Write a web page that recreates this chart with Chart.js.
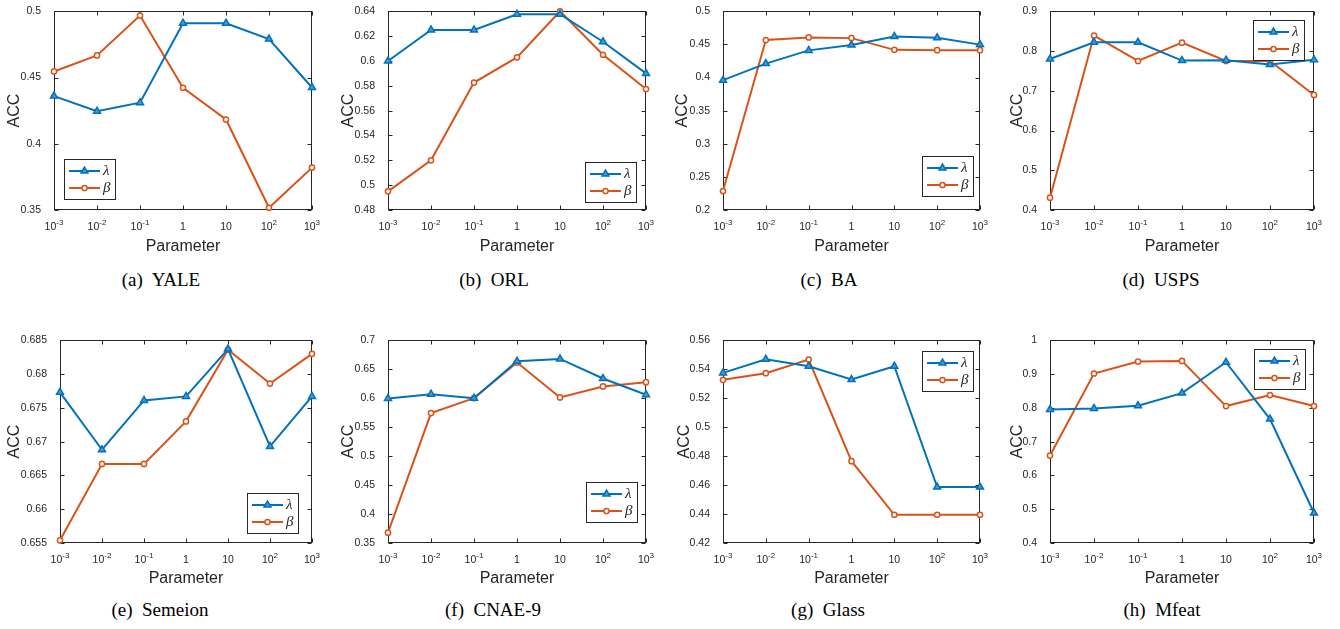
<!DOCTYPE html>
<html>
<head>
<meta charset="utf-8">
<title>Parameter sensitivity</title>
<script src="https://cdn.jsdelivr.net/npm/chart.js@4.4.1/dist/chart.umd.min.js"></script>
<style>
  body { margin: 0; background: #fff; width: 1340px; height: 629px; position: relative; overflow: hidden; }
  canvas.panel { position: absolute; }
  .caption {
    position: absolute; transform: translateX(-50%); white-space: pre;
    font-family: "Liberation Serif", "Times New Roman", serif; font-size: 19px; line-height: 22px; color: #000;
  }
</style>
</head>
<body>
<script>
// Parametrit (x-akseli): kantaluku ja eksponentti erikseen
const paramBase = ['10', '10', '10', '1', '10', '10', '10'];
const paramExp = ['-3', '-2', '-1', '', '', '2', '3'];
const params = ['10⁻³', '10⁻²', '10⁻¹', '1', '10', '10²', '10³'];
const seriesNames = ['λ', 'β'];

// ACC-arvot kuvasta luettuna
const yaleLambda = [0.436, 0.4245, 0.431, 0.491, 0.491, 0.479, 0.4425];
const yaleBeta = [0.4546, 0.4667, 0.4968, 0.4423, 0.4183, 0.3517, 0.382];
const yaleTicks = [0.35, 0.4, 0.45, 0.5];

const orlLambda = [0.600, 0.625, 0.625, 0.6376, 0.6376, 0.6155, 0.590];
const orlBeta = [0.495, 0.520, 0.5826, 0.6029, 0.640, 0.605, 0.5774];
const orlTicks = [0.48, 0.5, 0.52, 0.54, 0.56, 0.58, 0.6, 0.62, 0.64];

const baLambda = [0.396, 0.421, 0.441, 0.449, 0.462, 0.460, 0.4497];
const baBeta = [0.2287, 0.4566, 0.4605, 0.4595, 0.4418, 0.4413, 0.4413];
const baTicks = [0.2, 0.25, 0.3, 0.35, 0.4, 0.45, 0.5];

const uspsLambda = [0.780, 0.822, 0.822, 0.776, 0.777, 0.766, 0.778];
const uspsBeta = [0.431, 0.839, 0.775, 0.821, 0.775, 0.775, 0.6895];
const uspsTicks = [0.4, 0.5, 0.6, 0.7, 0.8, 0.9];

const semeionLambda = [0.6773, 0.6688, 0.6761, 0.6767, 0.6837, 0.6693, 0.6767];
const semeionBeta = [0.6554, 0.6667, 0.6667, 0.673, 0.6836, 0.6786, 0.683];
const semeionTicks = [0.655, 0.66, 0.665, 0.67, 0.675, 0.68, 0.685];

const cnaeLambda = [0.5996, 0.607, 0.600, 0.6639, 0.6679, 0.634, 0.606];
const cnaeBeta = [0.3678, 0.5744, 0.6002, 0.6616, 0.6013, 0.6203, 0.6277];
const cnaeTicks = [0.35, 0.4, 0.45, 0.5, 0.55, 0.6, 0.65, 0.7];

const glassLambda = [0.5375, 0.5469, 0.5421, 0.5329, 0.5421, 0.4586, 0.4586];
const glassBeta = [0.5327, 0.5373, 0.5467, 0.4765, 0.4395, 0.4395, 0.4395];
const glassTicks = [0.42, 0.44, 0.46, 0.48, 0.5, 0.52, 0.54, 0.56];

const mfeatLambda = [0.7955, 0.7984, 0.8063, 0.8437, 0.935, 0.767, 0.4887];
const mfeatBeta = [0.6588, 0.9017, 0.937, 0.939, 0.8053, 0.8378, 0.8053];
const mfeatTicks = [0.4, 0.5, 0.6, 0.7, 0.8, 0.9, 1];

const captions = ['(a)  YALE', '(b)  ORL', '(c)  BA', '(d)  USPS',
                  '(e)  Semeion', '(f)  CNAE-9', '(g)  Glass', '(h)  Mfeat'];

const BLUE = '#0072BD';
const ORANGE = '#D95319';
const INK = '#262626';
const SANS = '"Liberation Sans", Arial, sans-serif';

Chart.defaults.font.family = SANS;
Chart.defaults.color = INK;

// Paneelien sijainnit: piirtoalue [vasen, ylä, oikea, ala], y-akselin leveys, selitteen paikka
const panels = [
  { lam: yaleLambda, beta: yaleBeta, ticks: yaleTicks, plot: [54, 7, 312, 210], yw: 53, legend: ['sw', 10, 11], capX: 161 },
  { lam: orlLambda, beta: orlBeta, ticks: orlTicks, plot: [388, 7, 646, 210], yw: 53, legend: ['se', 10, 8], capX: 494 },
  { lam: baLambda, beta: baBeta, ticks: baTicks, plot: [723, 7, 980, 210], yw: 54, legend: ['se', 7, 14], capX: 829 },
  { lam: uspsLambda, beta: uspsBeta, ticks: uspsTicks, plot: [1050, 7, 1314, 210], yw: 46, legend: ['ne', 10, 9], capX: 1161 },
  { lam: semeionLambda, beta: semeionBeta, ticks: semeionTicks, plot: [60, 339, 312, 543], yw: 59, legend: ['se', 14, 10], capX: 160 },
  { lam: cnaeLambda, beta: cnaeBeta, ticks: cnaeTicks, plot: [388, 339, 646, 543], yw: 53, legend: ['se', 9, 21], capX: 493 },
  { lam: glassLambda, beta: glassBeta, ticks: glassTicks, plot: [723, 339, 980, 543], yw: 52, legend: ['ne', 7, 11], capX: 828 },
  { lam: mfeatLambda, beta: mfeatBeta, ticks: mfeatTicks, plot: [1050, 339, 1314, 543], yw: 46, legend: ['ne', 9, 9], capX: 1162 }
];

// Laatikko ja sisäänpäin osoittavat tikit (MATLAB-tyyli)
const framePlugin = {
  id: 'frame',
  beforeDatasetsDraw(chart) {
    const { ctx, chartArea: a, scales: { x, y } } = chart;
    const L = Math.round(a.left) + 0.5, R = Math.round(a.right) - 0.5;
    const T = Math.round(a.top) + 0.5, B = Math.round(a.bottom) - 0.5;
    ctx.save();
    ctx.strokeStyle = INK;
    ctx.lineWidth = 1;
    ctx.strokeRect(L, T, R - L, B - T);
    ctx.beginPath();
    y.ticks.forEach(t => {
      const py = Math.round(y.getPixelForValue(t.value)) + 0.5;
      ctx.moveTo(L, py); ctx.lineTo(L + 4, py);
      ctx.moveTo(R, py); ctx.lineTo(R - 4, py);
    });
    x.ticks.forEach((t, i) => {
      const px = Math.round(x.getPixelForTick(i)) + 0.5;
      ctx.moveTo(px, B); ctx.lineTo(px, B - 4);
      ctx.moveTo(px, T); ctx.lineTo(px, T + 4);
    });
    ctx.stroke();

    // x-akselin tikkitekstit: 10 ja yläindeksi
    ctx.fillStyle = INK;
    ctx.textBaseline = 'alphabetic';
    ctx.textAlign = 'left';
    x.ticks.forEach((t, i) => {
      const px = x.getPixelForTick(i);
      ctx.font = '10.5px ' + SANS;
      const wb = ctx.measureText(paramBase[i]).width;
      ctx.font = '8px ' + SANS;
      const we = ctx.measureText(paramExp[i]).width;
      const x0 = px - (wb + we) / 2;
      ctx.font = '10.5px ' + SANS;
      ctx.fillText(paramBase[i], x0, a.bottom + 20);
      if (paramExp[i]) {
        ctx.font = '8px ' + SANS;
        ctx.fillText(paramExp[i], x0 + wb, a.bottom + 14.5);
      }
    });
    ctx.restore();
  }
};

function drawMarker(ctx, style, x, y, r) {
  ctx.beginPath();
  if (style === 'triangle') {
    let rad = 0;
    ctx.moveTo(x + Math.sin(rad) * r, y - Math.cos(rad) * r);
    rad += Math.PI * 2 / 3;
    ctx.lineTo(x + Math.sin(rad) * r, y - Math.cos(rad) * r);
    rad += Math.PI * 2 / 3;
    ctx.lineTo(x + Math.sin(rad) * r, y - Math.cos(rad) * r);
    ctx.closePath();
  } else {
    ctx.arc(x, y, r, 0, Math.PI * 2);
  }
  ctx.fill();
  ctx.stroke();
}

// Selite laatikon sisällä
const legendPlugin = {
  id: 'boxLegend',
  afterDraw(chart, args, opts) {
    const { ctx, chartArea: a } = chart;
    const w = 51, h = 40;
    const [corner, dx, dy] = opts.at;
    const x = Math.round(corner.includes('w') ? a.left + dx : a.right - dx - w);
    const y = Math.round(corner.includes('n') ? a.top + dy : a.bottom - dy - h);
    ctx.save();
    ctx.fillStyle = '#fff';
    ctx.fillRect(x, y, w, h);
    ctx.strokeStyle = INK;
    ctx.lineWidth = 1;
    ctx.strokeRect(x + 0.5, y + 0.5, w, h);
    chart.data.datasets.forEach((ds, i) => {
      const ry = y + 12 + i * 17;
      ctx.strokeStyle = ds.borderColor;
      ctx.lineWidth = ds.borderWidth;
      ctx.beginPath();
      ctx.moveTo(x + 5, ry);
      ctx.lineTo(x + 36, ry);
      ctx.stroke();
      ctx.fillStyle = ds.pointBackgroundColor;
      ctx.strokeStyle = ds.pointBorderColor;
      ctx.lineWidth = ds.pointBorderWidth;
      drawMarker(ctx, ds.pointStyle, x + 20.5, ry, ds.pointRadius);
      ctx.fillStyle = INK;
      ctx.font = 'italic 15px "Liberation Serif", serif';
      ctx.textBaseline = 'middle';
      ctx.textAlign = 'left';
      ctx.fillText(ds.label, x + 39, ry);
    });
    ctx.restore();
  }
};

panels.forEach((p, idx) => {
  const [left, top, right, bottom] = p.plot;
  const padTop = idx < 4 ? 7 : 10;
  const xh = idx < 4 ? 50 : 49;
  const padRight = 16;
  const cw = p.yw + (right - left) + padRight;
  const chh = padTop + (bottom - top) + xh;

  const canvas = document.createElement('canvas');
  canvas.className = 'panel';
  canvas.width = cw;
  canvas.height = chh;
  canvas.style.left = (left - p.yw) + 'px';
  canvas.style.top = (top - padTop) + 'px';
  canvas.style.width = cw + 'px';
  canvas.style.height = chh + 'px';
  document.body.appendChild(canvas);

  const yMin = p.ticks[0], yMax = p.ticks[p.ticks.length - 1];

  new Chart(canvas.getContext('2d'), {
    type: 'line',
    data: {
      labels: params,
      datasets: [{
        label: seriesNames[0],
        data: p.lam,
        borderColor: BLUE,
        borderWidth: 2,
        pointStyle: 'triangle',
        pointRadius: 4,
        pointBackgroundColor: '#4f97cf',
        pointBorderColor: BLUE,
        pointBorderWidth: 1.5,
        tension: 0,
        clip: false
      }, {
        label: seriesNames[1],
        data: p.beta,
        borderColor: ORANGE,
        borderWidth: 2,
        pointStyle: 'circle',
        pointRadius: 2.6,
        pointBackgroundColor: '#fff',
        pointBorderColor: ORANGE,
        pointBorderWidth: 1.5,
        tension: 0,
        clip: false
      }]
    },
    options: {
      responsive: false,
      animation: false,
      devicePixelRatio: 1,
      layout: { padding: { top: padTop, right: padRight, left: 0, bottom: 0 } },
      plugins: {
        legend: { display: false },
        tooltip: { enabled: false },
        boxLegend: { at: p.legend }
      },
      scales: {
        x: {
          type: 'category',
          offset: false,
          grid: { display: false },
          border: { display: false },
          ticks: { display: false, autoSkip: false, maxRotation: 0 },
          title: { display: true, text: 'Parameter', font: { size: 16 }, color: INK },
          afterFit: s => { s.height = xh; }
        },
        y: {
          min: yMin,
          max: yMax,
          grid: { display: false },
          border: { display: false },
          afterBuildTicks: s => { s.ticks = p.ticks.map(v => ({ value: v })); },
          ticks: {
            padding: 5,
            font: { size: 10.5 },
            color: INK,
            callback: v => String(+Number(v).toFixed(4))
          },
          title: { display: true, text: 'ACC', font: { size: 16 }, color: INK },
          afterFit: s => { s.width = p.yw; }
        }
      }
    },
    plugins: [framePlugin, legendPlugin]
  });

  const cap = document.createElement('div');
  cap.className = 'caption';
  cap.textContent = captions[idx];
  cap.style.left = p.capX + 'px';
  cap.style.top = (idx < 4 ? 269 : 599) + 'px';
  document.body.appendChild(cap);
});
</script>
</body>
</html>
